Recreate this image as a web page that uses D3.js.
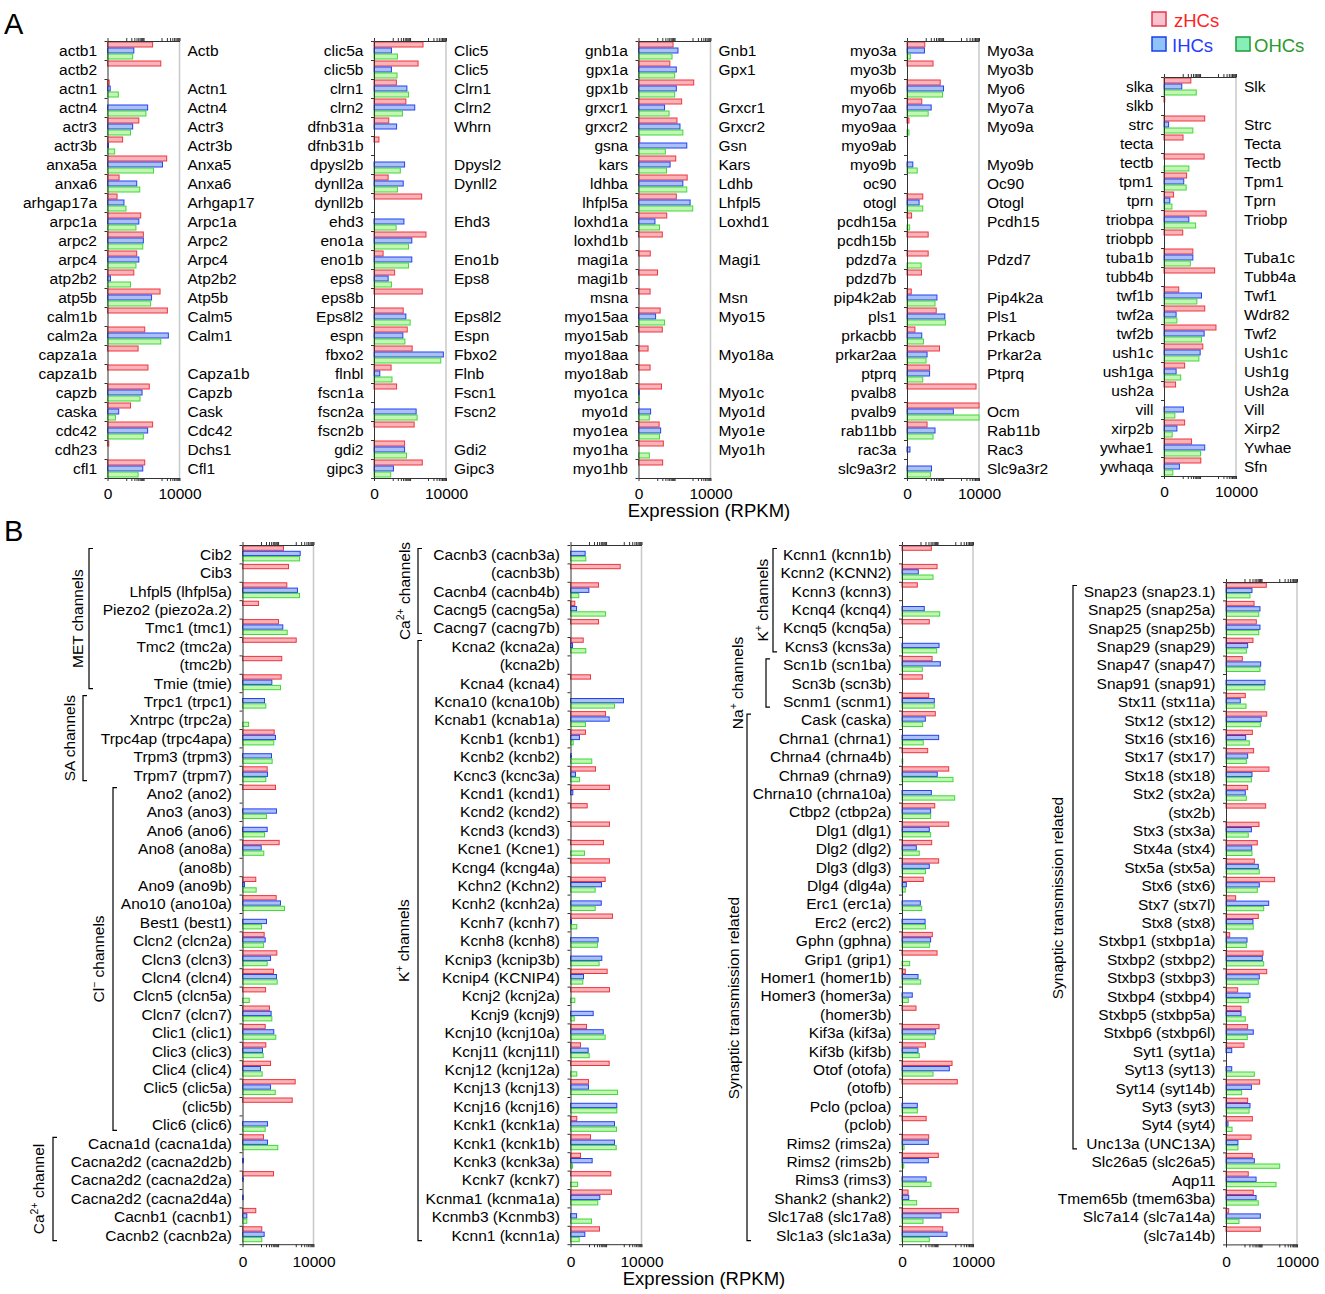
<!DOCTYPE html>
<html>
<head>
<meta charset="utf-8">
<title>hair cell expression</title>
<script src="https://d3js.org/d3.v7.min.js"></script>
<style>
    body { margin: 0; background: #fff; }
    svg text { font-family: "Liberation Sans", Arial, sans-serif; }
</style>
</head>
<body>
<svg id="chart" width="1325" height="1294"></svg>
<script>
// ---------- data : panel A (zebrafish gene, mouse ortholog, RPKM zHCs / IHCs / OHCs) ----------
const genesA1 = ["actb1","actb2","actn1","actn4","actr3","actr3b","anxa5a","anxa6","arhgap17a","arpc1a","arpc2","arpc4","atp2b2","atp5b","calm1b","calm2a","capza1a","capza1b","capzb","caska","cdc42","cdh23","cfl1"];
const mouseA1 = ["Actb","","Actn1","Actn4","Actr3","Actr3b","Anxa5","Anxa6","Arhgap17","Arpc1a","Arpc2","Arpc4","Atp2b2","Atp5b","Calm5","Calm1","","Capza1b","Capzb","Cask","Cdc42","Dchs1","Cfl1"];
const zhcA1 = [320, 910, 0.24, 0, 54, 5.9, 1940, 3.4, 2.4, 69, 97, 41, 28, 830, 2120, 116, 49, 176, 208, 18, 320, 0.18, 116];
const ihcA1 = [28, 0, 0.41, 169, 24, 0.13, 1130, 41, 7.2, 54, 97, 54, 0.46, 280, 0, 2400, 0, 0, 82, 3.2, 169, 0, 90];
const ohcA1 = [24, 0, 3.0, 136, 18, 1.5, 360, 61, 9.6, 37, 90, 37, 18, 248, 0, 910, 0, 0, 63, 1.75, 97, 0, 49];

const genesA2 = ["clic5a","clic5b","clrn1","clrn2","dfnb31a","dfnb31b","dpysl2b","dynll2a","dynll2b","ehd3","eno1a","eno1b","eps8","eps8b","Eps8l2","espn","fbxo2","flnbl","fscn1a","fscn2a","fscn2b","gdi2","gipc3"];
const mouseA2 = ["Clic5","Clic5","Clrn1","Clrn2","Whrn","","Dpysl2","Dynll2","","Ehd3","","Eno1b","Eps8","","Eps8l2","Espn","Fbxo2","Flnb","Fscn1","Fscn2","","Gdi2","Gipc3"];
const zhcA2 = [526, 280, 16.5, 58, 5.6, 0.88, 0, 5.1, 444, 0, 770, 2.2, 13, 480, 41, 69, 131, 7.9, 17, 0, 169, 49, 480];
const ihcA2 = [8.3, 8.3, 66, 182, 17, 0, 49, 41, 0, 45, 125, 125, 5.1, 0, 58, 39, 7130, 1.1, 0, 218, 0, 49, 11];
const ohcA2 = [19, 18, 82, 37, 0, 0, 28, 19, 0, 16, 82, 82, 8.3, 0, 101, 51, 5120, 9, 0, 248, 0, 63, 7.5];

const genesA3 = ["gnb1a","gpx1a","gpx1b","grxcr1","grxcr2","gsna","kars","ldhba","lhfpl5a","loxhd1a","loxhd1b","magi1a","magi1b","msna","myo15aa","myo15ab","myo18aa","myo18ab","myo1ca","myo1d","myo1ea","myo1ha","myo1hb"];
const mouseA3 = ["Gnb1","Gpx1","","Grxcr1","Grxcr2","Gsn","Kars","Ldhb","Lhfpl5","Loxhd1","","Magi1","","Msn","Myo15","","Myo18a","","Myo1c","Myo1d","Myo1e","Myo1h",""];
const zhcA3 = [82, 54, 1170, 248, 136, 0.18, 116, 505, 125, 36, 20, 3.5, 10.4, 3.4, 15, 20, 2.4, 3.4, 18, 0, 13, 23, 21];
const ihcA3 = [155, 125, 125, 27, 200, 480, 56, 290, 735, 7.2, 0, 0, 0, 0, 7.9, 0, 0, 0, 0.1, 3.7, 16, 0, 0];
const ohcA3 = [72, 101, 101, 49, 290, 30, 35, 480, 1030, 13.7, 0, 0, 0, 0, 27, 0, 0, 0, 0.1, 3, 13.7, 3, 0];

const genesA4 = ["myo3a","myo3b","myo6b","myo7aa","myo9aa","myo9ab","myo9b","oc90","otogl","pcdh15a","pcdh15b","pdzd7a","pdzd7b","pip4k2ab","pls1","prkacbb","prkar2aa","ptprq","pvalb8","pvalb9","rab11bb","rac3a","slc9a3r2"];
const mouseA4 = ["Myo3a","Myo3b","Myo6","Myo7a","Myo9a","","Myo9b","Oc90","Otogl","Pcdh15","","Pdzd7","","Pip4k2a","Pls1","Prkacb","Prkar2a","Ptprq","","Ocm","Rab11b","Rac3","Slc9a3r2"];
const zhcA4 = [8.7, 27, 69, 5.6, 0.29, 0, 0, 0, 6.5, 0.8, 14, 14, 5.4, 0.72, 41, 1.75, 63, 17, 6850, 12000, 12, 0, 0];
const ihcA4 = [8.3, 0, 106, 21, 0, 0, 1.1, 0, 3.7, 0, 0, 0, 0, 45, 125, 5.6, 12, 17, 0, 375, 35, 0.46, 22];
const ohcA4 = [0.52, 0, 93, 14, 0.29, 0, 2.7, 0, 6.5, 0.4, 0, 5.1, 0, 35, 136, 7.2, 10.4, 6.5, 0, 11000, 27, 0, 19];

const genesA5 = ["slka","slkb","strc","tecta","tectb","tpm1","tprn","triobpa","triobpb","tuba1b","tubb4b","twf1b","twf2a","twf2b","ush1c","ush1ga","ush2a","vill","xirp2b","ywhae1","ywhaqa"];
const mouseA5 = ["Slk","","Strc","Tecta","Tectb","Tpm1","Tprn","Triobp","","Tuba1c","Tubb4a","Twf1","Wdr82","Twf2","Ush1c","Ush1g","Ush2a","Vill","Xirp2","Ywhae","Sfn"];
const zhcA5 = [30, 0.1, 182, 10.4, 169, 17, 2.4, 218, 10, 39, 650, 5.6, 182, 770, 142, 13, 3.4, 0, 13, 33, 110];
const ihcA5 = [8.7, 0, 0.8, 0, 0, 11.5, 1.1, 23, 0, 39, 0, 120, 3.7, 169, 101, 3.7, 0, 11, 4.2, 182, 6.2];
const ohcA5 = [61, 0, 39, 0, 23, 16, 1.75, 56, 0, 28, 0, 66, 4.2, 120, 86, 7.5, 0, 3, 1.85, 106, 2.1];

// ---------- data : panel B ----------
const genesB1 = ["Cib2","Cib3","Lhfpl5 (lhfpl5a)","Piezo2 (piezo2a.2)","Tmc1 (tmc1)","Tmc2 (tmc2a)","(tmc2b)","Tmie (tmie)","Trpc1 (trpc1)","Xntrpc (trpc2a)","Trpc4ap (trpc4apa)","Trpm3 (trpm3)","Trpm7 (trpm7)","Ano2 (ano2)","Ano3 (ano3)","Ano6 (ano6)","Ano8 (ano8a)","(ano8b)","Ano9 (ano9b)","Ano10 (ano10a)","Best1 (best1)","Clcn2 (clcn2a)","Clcn3 (clcn3)","Clcn4 (clcn4)","Clcn5 (clcn5a)","Clcn7 (clcn7)","Clic1 (clic1)","Clic3 (clic3)","Clic4 (clic4)","Clic5 (clic5a)","(clic5b)","Clic6 (clic6)","Cacna1d (cacna1da)","Cacna2d2 (cacna2d2b)","Cacna2d2 (cacna2d2a)","Cacna2d2 (cacna2d4a)","Cacnb1 (cacnb1)","Cacnb2 (cacnb2a)"];
const zhcB1 = [203, 391, 313, 7, 106, 1060, 162, 150, 0, 0, 60, 0, 23.6, 71.5, 0, 0, 115, 0, 4.6, 78, 0, 15.6, 85, 55, 19, 32, 18, 19.6, 37, 927, 630, 0, 14.3, 0, 55, 0, 4.6, 11.2];
const ihcB1 = [1780, 0, 1250, 0, 185, 0, 0, 44, 16.4, 0, 71.5, 42, 24.7, 0, 81, 23.6, 10.3, 0, 0.3, 137, 21.5, 18, 37, 81, 0, 40, 57, 12.4, 9.3, 37, 0, 24.7, 24.7, 0.14, 0.14, 0.1, 0.75, 15.6];
const ohcB1 = [1630, 0, 1630, 0, 329, 0, 0, 137, 19.6, 1.2, 57, 46, 19.6, 0, 21.5, 16.4, 14.8, 0, 4.9, 231, 10.8, 14.3, 23.6, 89, 1.4, 44, 74, 13.6, 11.9, 69, 0, 18, 96, 0, 0, 0, 0.75, 11.2];

const genesB2 = ["Cacnb3 (cacnb3a)","(cacnb3b)","Cacnb4 (cacnb4b)","Cacng5 (cacng5a)","Cacng7 (cacng7b)","Kcna2 (kcna2a)","(kcna2b)","Kcna4 (kcna4)","Kcna10 (kcna10b)","Kcnab1 (kcnab1a)","Kcnb1 (kcnb1)","Kcnb2 (kcnb2)","Kcnc3 (kcnc3a)","Kcnd1 (kcnd1)","Kcnd2 (kcnd2)","Kcnd3 (kcnd3)","Kcne1 (Kcne1)","Kcng4 (kcng4a)","Kchn2 (Kchn2)","Kcnh2 (kcnh2a)","Kcnh7 (kcnh7)","Kcnh8 (kcnh8)","Kcnip3 (kcnip3b)","Kcnip4 (KCNIP4)","Kcnj2 (kcnj2a)","Kcnj9 (kcnj9)","Kcnj10 (kcnj10a)","Kcnj11 (kcnj11l)","Kcnj12 (kcnj12a)","Kcnj13 (kcnj13)","Kcnj16 (kcnj16)","Kcnk1 (kcnk1a)","Kcnk1 (kcnk1b)","Kcnk3 (kcnk3a)","Kcnk7 (kcnk7)","Kcnma1 (kcnma1a)","Kcnmb3 (Kcnmb3)","Kcnn1 (kcnn1a)"];
const zhcB2 = [0, 630, 37, 0.75, 37, 4.2, 0, 12.4, 0, 93.5, 6, 0, 24.7, 156, 7.7, 156, 71.5, 156, 89, 0, 231, 0, 0, 115, 156, 0, 7, 2.66, 150, 9.3, 0, 1.26, 12.4, 2.66, 185, 203, 0, 42];
const ihcB2 = [5.7, 0, 9.8, 1.2, 0, 0.3, 0, 0, 966, 150, 2.2, 0.14, 0.91, 0.35, 0, 0, 0, 0, 55, 53, 0.14, 35, 57, 4.4, 0, 18, 69, 8.9, 0, 9.3, 406, 300, 300, 15.6, 0, 44, 1.2, 5.4];
const ohcB2 = [6.3, 0, 1.93, 93.5, 0, 6.3, 0, 0, 300, 6, 0.42, 14.8, 2.2, 0, 0, 0, 5.15, 0, 23.6, 23.6, 1.26, 32, 40, 3.93, 0.75, 0.62, 89, 10.3, 1.26, 445, 406, 391, 374, 0.3, 1.5, 33.5, 14.3, 2.1];

const genesB3 = ["Kcnn1 (kcnn1b)","Kcnn2 (KCNN2)","Kcnn3 (kcnn3)","Kcnq4 (kcnq4)","Kcnq5 (kcnq5a)","Kcns3 (kcns3a)","Scn1b (scn1ba)","Scn3b (scn3b)","Scnm1 (scnm1)","Cask (caska)","Chrna1 (chrna1)","Chrna4 (chrna4b)","Chrna9 (chrna9)","Chrna10 (chrna10a)","Ctbp2 (ctbp2a)","Dlg1 (dlg1)","Dlg2 (dlg2)","Dlg3 (dlg3)","Dlg4 (dlg4a)","Erc1 (erc1a)","Erc2 (erc2)","Gphn (gphna)","Grip1 (grip1)","Homer1 (homer1b)","Homer3 (homer3a)","(homer3b)","Kif3a (kif3a)","Kif3b (kif3b)","Otof (otofa)","(otofb)","Pclo (pcloa)","(pclob)","Rims2 (rims2a)","Rims2 (rims2b)","Rims3 (rims3)","Shank2 (shank2)","Slc17a8 (slc17a8)","Slc1a3 (slc1a3a)"];
const zhcB3 = [44, 93.5, 6.3, 0, 33.5, 0, 48.5, 13, 31, 74, 0, 27, 427, 0, 69, 427, 46, 115, 14.8, 0, 0, 50, 93.5, 0.53, 0, 5.15, 121, 20, 658, 1300, 0, 22, 31, 110, 0, 1.2, 1490, 196];
const ihcB3 = [0, 7.3, 0, 17, 0, 121, 143, 0, 65, 19.6, 115, 0, 96, 44, 40, 33.5, 5.4, 33.5, 0.75, 9.8, 19, 40, 0, 7, 2.8, 0, 78, 7, 463, 0, 6.3, 0, 29.5, 29.5, 22, 1.4, 156, 343];
const ohcB3 = [0, 55, 0, 132, 0, 89, 13, 0, 65, 13.6, 14.8, 0.1, 745, 927, 40, 40, 8.4, 20, 0.53, 11.9, 20, 35, 1.7, 10.3, 1.26, 0, 65, 8.4, 55, 0, 6.3, 0, 0.3, 0.25, 42, 5.7, 14.3, 33.5];

const genesB4 = ["Snap23 (snap23.1)","Snap25 (snap25a)","Snap25 (snap25b)","Snap29 (snap29)","Snap47 (snap47)","Snap91 (snap91)","Stx11 (stx11a)","Stx12 (stx12)","Stx16 (stx16)","Stx17 (stx17)","Stx18 (stx18)","Stx2 (stx2a)","(stx2b)","Stx3 (stx3a)","Stx4a (stx4)","Stx5a (stx5a)","Stx6 (stx6)","Stx7 (stx7l)","Stx8 (stx8)","Stxbp1 (stxbp1a)","Stxbp2 (stxbp2)","Stxbp3 (stxbp3)","Stxbp4 (stxbp4)","Stxbp5 (stxbp5a)","Stxbp6 (stxbp6l)","Syt1 (syt1a)","Syt13 (syt13)","Syt14 (syt14b)","Syt3 (syt3)","Syt4 (syt4)","Unc13a (UNC13A)","Slc26a5 (slc26a5)","Aqp11","Tmem65b (tmem63ba)","Slc7a14 (slc7a14a)","(slc7a14b)"];
const zhcB4 = [185, 37, 50, 32, 7.3, 0, 11.2, 196, 29.5, 35, 263, 15.6, 171, 71.5, 57, 38.5, 548, 2.5, 65, 0.62, 121, 196, 3.55, 6, 15.6, 9.3, 0, 78, 15.6, 29.5, 24.7, 29.5, 17, 33.5, 0.42, 85];
const ihcB4 = [28, 81, 81, 15.6, 89, 156, 5.4, 96, 11.9, 15.6, 28, 11.2, 0, 26, 27, 65, 74, 253, 32, 14.3, 110, 74, 21.5, 6, 33.5, 1.1, 1.1, 26, 21.5, 0.3, 3.7, 38.5, 48.5, 48.5, 85, 0];
const ohcB4 = [21.5, 69, 69, 13, 81, 150, 12.4, 85, 19.6, 13, 26, 13, 0, 17, 28, 74, 57, 132, 33.5, 13, 132, 65, 17, 11.2, 14.8, 0, 38.5, 6.6, 19, 1.2, 3.7, 1060, 656, 65, 4.4, 0];

// gene groups in panel B: column, first row, last row, label parts ([text, superscript?])
const groupsB = [
    { col: 0, from: 0, to: 7, label: [["MET channels"]] },
    { col: 0, from: 8, to: 12, label: [["SA channels"]] },
    { col: 0, from: 13, to: 31, label: [["Cl"], ["\u2212", 1], [" channels"]] },
    { col: 0, from: 32, to: 37, label: [["Ca"], ["2+", 1], [" channel"]] },
    { col: 1, from: 0, to: 4, label: [["Ca"], ["2+", 1], [" channels"]] },
    { col: 1, from: 5, to: 37, label: [["K"], ["+", 1], [" channels"]] },
    { col: 2, from: 0, to: 5, label: [["K"], ["+", 1], [" channels"]] },
    { col: 2, from: 6, to: 8, label: [["Na"], ["+", 1], [" channels"]] },
    { col: 2, from: 9, to: 37, label: [["Synaptic transmission related"]] },
    { col: 3, from: 0, to: 30, label: [["Synaptic transmission related"]] }
];

const seriesNames = ["zHCs", "IHCs", "OHCs"];

// ---------- layout ----------
const series = [
    { fill: "#f9b3b9", stroke: "#f0343c", key: "#f8c3cf", keyStroke: "#e8344c", text: "#ff1f1f" },
    { fill: "#abc0f3", stroke: "#2342f5", key: "#90c3f8", keyStroke: "#1a3cf0", text: "#1f3cff" },
    { fill: "#c3f5b3", stroke: "#3fd93a", key: "#86efb8", keyStroke: "#1f9a3a", text: "#2b9a2b" }
];
const panelA = { W: 72, rowH: 19, pitch: 6, barH: 5, gap: 10.5, tickPad: 7 };
const panelB = { W: 71, rowH: 18.4, pitch: 5.3, barH: 4.3, gap: 10.5, tickPad: 9 };
const colsA = [{ x: 107.5, top: 41 }, { x: 374, top: 41 }, { x: 638.5, top: 41 }, { x: 907, top: 41 }, { x: 1164, top: 77 }];
const colsB = [{ x: 242.5, top: 545 }, { x: 570.5, top: 545 }, { x: 902, top: 545 }, { x: 1226, top: 582 }];
const groupPos = [
    { x: 89, lx: 78 }, { x: 83, lx: 70 }, { x: 113, lx: 99 }, { x: 53, lx: 39 },
    { x: 418, lx: 405 }, { x: 418, lx: 404 },
    { x: 773, lx: 763 }, { x: 766, lx: 738 }, { x: 747, lx: 734, ly: 998 },
    { x: 1073, lx: 1058, ly: 898 }
];
const FS = 15.5;
const minorTicks = d3.range(10, 101, 10).concat(d3.range(1000, 10001, 1000));

const svg = d3.select("#chart");

function styleAxis(g) {
    g.attr("font-size", null).attr("font-family", null);
    g.selectAll("path, line").attr("stroke", "#333").attr("stroke-width", 1);
    g.selectAll("text").attr("fill", "#000").style("font-size", FS + "px");
}

function drawColumn(lay, P, genes, mouse, vals) {
    const g = svg.append("g");
    const n = genes.length;
    const bottom = lay.top + n * P.rowH;
    const x = d3.scaleSymlog().constant(1).domain([0, 10000]).range([lay.x, lay.x + P.W]).clamp(true);
    const y = d3.scaleBand().domain(d3.range(n)).range([lay.top, bottom]);

    // light frame on the right
    g.append("line")
        .attr("x1", lay.x + P.W).attr("x2", lay.x + P.W)
        .attr("y1", lay.top).attr("y2", bottom)
        .attr("stroke", "#c8c8c8").attr("stroke-width", 1.5);

    vals.forEach((arr, s) => {
        g.append("g").selectAll("rect")
            .data(arr.map((v, i) => ({ v, i })).filter(d => d.v > 0))
            .join("rect")
            .attr("x", x(0))
            .attr("y", d => y(d.i) + 1 + s * P.pitch)
            .attr("width", d => Math.max(0.4, x(d.v) - x(0)))
            .attr("height", P.barH)
            .attr("fill", series[s].fill)
            .attr("stroke", series[s].stroke)
            .attr("stroke-width", 1);
    });

    g.append("g").attr("transform", `translate(0,${lay.top})`)
        .call(d3.axisTop(x).tickValues([0].concat(minorTicks)).tickSize(3).tickSizeOuter(0).tickFormat(""))
        .call(styleAxis);
    g.append("g").attr("transform", `translate(0,${bottom})`)
        .call(d3.axisBottom(x).tickValues([0].concat(minorTicks)).tickSize(3).tickSizeOuter(0)
            .tickPadding(P.tickPad).tickFormat(d => (d === 0 || d === 10000) ? String(d) : ""))
        .call(styleAxis);
    const yl = d3.scaleLinear().domain([0, n]).range([lay.top, bottom]);
    g.append("g").attr("transform", `translate(${x(0)},0)`)
        .call(d3.axisLeft(yl).tickValues(d3.range(n + 1)).tickSize(3).tickSizeOuter(0).tickFormat(""))
        .call(styleAxis);

    g.append("g").selectAll("text")
        .data(genes).join("text")
        .attr("x", lay.x - P.gap)
        .attr("y", (d, i) => y(i) + P.rowH / 2)
        .attr("dy", "0.36em")
        .attr("text-anchor", "end")
        .style("font-size", FS + "px")
        .text(d => d);

    if (mouse) {
        g.append("g").selectAll("text")
            .data(mouse).join("text")
            .attr("x", lay.x + P.W + 8)
            .attr("y", (d, i) => y(i) + P.rowH / 2)
            .attr("dy", "0.36em")
            .style("font-size", FS + "px")
            .text(d => d);
    }
}

// panel A
drawColumn(colsA[0], panelA, genesA1, mouseA1, [zhcA1, ihcA1, ohcA1]);
drawColumn(colsA[1], panelA, genesA2, mouseA2, [zhcA2, ihcA2, ohcA2]);
drawColumn(colsA[2], panelA, genesA3, mouseA3, [zhcA3, ihcA3, ohcA3]);
drawColumn(colsA[3], panelA, genesA4, mouseA4, [zhcA4, ihcA4, ohcA4]);
drawColumn(colsA[4], panelA, genesA5, mouseA5, [zhcA5, ihcA5, ohcA5]);

// panel B
drawColumn(colsB[0], panelB, genesB1, null, [zhcB1, ihcB1, ohcB1]);
drawColumn(colsB[1], panelB, genesB2, null, [zhcB2, ihcB2, ohcB2]);
drawColumn(colsB[2], panelB, genesB3, null, [zhcB3, ihcB3, ohcB3]);
drawColumn(colsB[3], panelB, genesB4, null, [zhcB4, ihcB4, ohcB4]);

// group brackets with rotated labels
groupsB.forEach((grp, k) => {
    const pos = groupPos[k];
    const lay = colsB[grp.col];
    const y1 = lay.top + grp.from * panelB.rowH + 3.5;
    const y2 = lay.top + (grp.to + 1) * panelB.rowH - 3.5;
    svg.append("path")
        .attr("d", `M${pos.x + 4},${y1}H${pos.x}V${y2}H${pos.x + 4}`)
        .attr("fill", "none").attr("stroke", "#000").attr("stroke-width", 1.2);
    const ly = pos.ly || (y1 + y2) / 2;
    const t = svg.append("text")
        .attr("transform", `translate(${pos.lx + 5.4},${ly}) rotate(-90)`)
        .attr("text-anchor", "middle")
        .style("font-size", FS + "px");
    let prevSup = false;
    grp.label.forEach(p => {
        const ts = t.append("tspan").text(p[0]);
        if (p[1]) { ts.attr("dy", -6).style("font-size", "10.5px"); prevSup = true; }
        else if (prevSup) { ts.attr("dy", 6); prevSup = false; }
    });
});

// panel letters and axis titles
svg.append("text").attr("x", 4).attr("y", 34).style("font-size", "29px").text("A");
svg.append("text").attr("x", 4).attr("y", 541).style("font-size", "29px").text("B");
svg.append("text").attr("x", 709).attr("y", 517).attr("text-anchor", "middle").style("font-size", "18.5px").text("Expression (RPKM)");
svg.append("text").attr("x", 704).attr("y", 1285).attr("text-anchor", "middle").style("font-size", "18.5px").text("Expression (RPKM)");

// legend
const legendPos = [{ x: 1152, y: 12, tx: 1174 }, { x: 1152, y: 37, tx: 1172 }, { x: 1236, y: 37, tx: 1254 }];
seriesNames.forEach((name, i) => {
    const p = legendPos[i];
    svg.append("rect").attr("x", p.x).attr("y", p.y).attr("width", 14).attr("height", 14)
        .attr("fill", series[i].key).attr("stroke", series[i].keyStroke).attr("stroke-width", 1.5);
    svg.append("text").attr("x", p.tx).attr("y", p.y + 14.5)
        .style("font-size", "18.5px").attr("fill", series[i].text).text(name);
});
</script>
</body>
</html>
